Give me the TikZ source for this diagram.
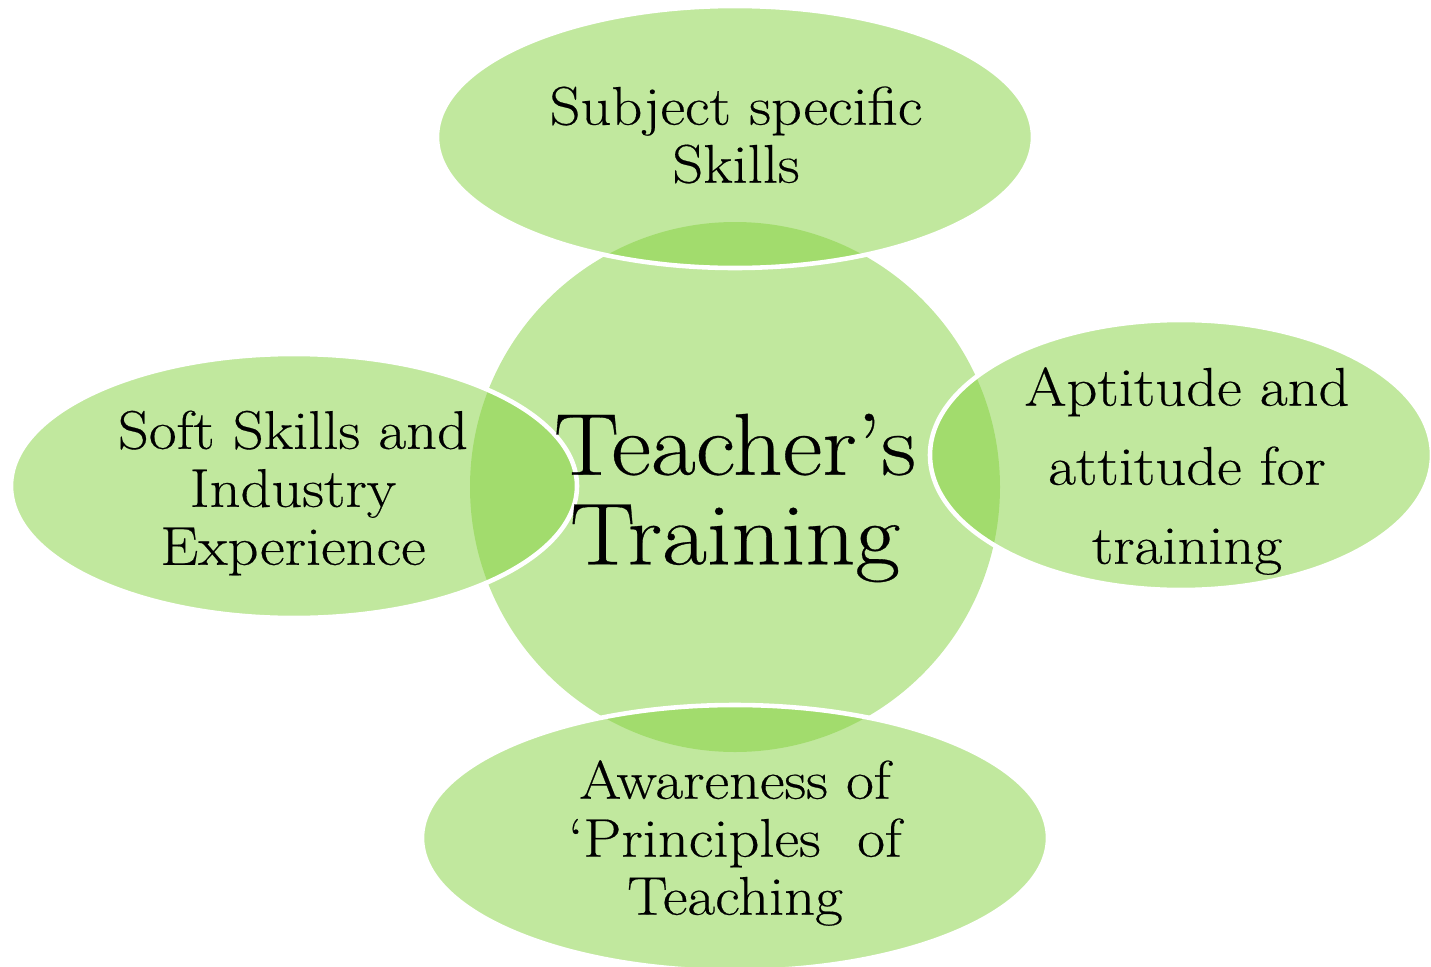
\documentclass[tikz,border=0pt]{standalone}
\usepackage{tikz}
\usepackage{fontspec}
\setmainfont{Latin Modern Roman}[FakeStretch=1.11, FakeBold=0.35]
\definecolor{leafgreen}{RGB}{131,209,61}
\tikzset{
  blob/.style={fill=leafgreen, fill opacity=0.5, draw=white, line width=2.6pt, draw opacity=1, text opacity=1},
  hub/.style={fill=leafgreen, fill opacity=0.5},
  smalltext/.style={align=center, font=\fontsize{31}{33}\selectfont, text=black},
  widetext/.style={align=center, font=\fontsize{31}{45}\selectfont, text=black},
  bigtext/.style={align=center, font=\fontsize{50}{51}\selectfont, text=black}
}
\begin{document}
\begin{tikzpicture}[x=0.02cm, y=-0.02cm]
\useasboundingbox (0,0) rectangle (1431,967);
% shapes
\fill[hub] (735,487) circle [radius=265];
\path[blob] (735,137) ellipse [x radius=298, y radius=131];
\path[blob] (1181,455) ellipse [x radius=251, y radius=135];
\path[blob] (294,486) ellipse [x radius=283, y radius=132];
\path[blob] (735,838) ellipse [x radius=313, y radius=133];
% texts
\node[bigtext] (hubtext) at (735,498) {Teacher’s\\Training};
\node[smalltext] (toptext) at (736,135) {Subject specific\\Skills};
\node[widetext] (righttext) at (1187,471) {Aptitude and\\attitude for\\training};
\node[smalltext] (lefttext) at (293,493) {Soft Skills and\\Industry\\Experience};
\node[smalltext] (bottomtext) at (735,843) {Awareness of\\‘Principles\ \ of\\Teaching};
\end{tikzpicture}
\end{document}
